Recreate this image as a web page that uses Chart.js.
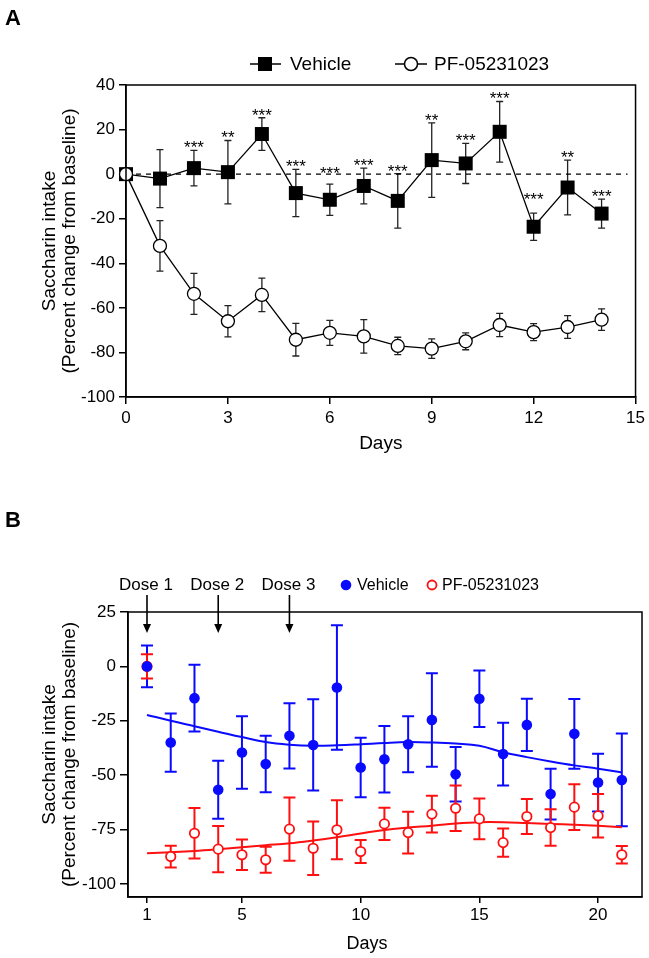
<!DOCTYPE html>
<html><head><meta charset="utf-8">
<script src="https://cdn.jsdelivr.net/npm/chart.js@4.4.1/dist/chart.umd.min.js"></script>
<style>
html,body{margin:0;padding:0;background:#fff;}
#wrap{position:relative;width:649px;height:958px;overflow:hidden;background:#fff;}
canvas{position:absolute;left:0;}
#cA{top:0;} #cB{top:480px;}
</style></head><body>
<div id="wrap"><canvas id="cA" width="649" height="480"></canvas><canvas id="cB" width="649" height="478"></canvas></div>
<script>
const FONT = 'Arial, "Liberation Sans", Helvetica, sans-serif';

// ---------- Panel A data ----------
const daysA = [0,1,2,3,4,5,6,7,8,9,10,11,12,13,14];
const vehicleA    = [0, -2, 2.7, 0.9, 18, -8.5, -11.5, -5.3, -12, 6.3, 4.8, 19, -23.6, -6, -17.7];
const vehicleSemA = [1, 13, 8, 14.2, 7.3, 10.6, 7, 8, 12.2, 16.7, 9, 13.6, 6.1, 12.3, 6.5];
const pfA    = [0, -32.2, -53.7, -66, -54.2, -74.3, -71.2, -72.8, -77.1, -78.3, -75, -67.7, -70.9, -68.6, -65.3];
const pfSemA = [1, 11.3, 9.2, 7, 7.5, 7.3, 5.6, 7.5, 3.9, 4.4, 3.8, 5.2, 3.8, 5.1, 4.8];
const starsA = ["", "", "***", "**", "***", "***", "***", "***", "***", "**", "***", "***", "***", "**", "***"];
const seriesNamesA = ["Vehicle", "PF-05231023"];
const xTicksA = [0,3,6,9,12,15];
const yTicksA = [-100,-80,-60,-40,-20,0,20,40];

// ---------- Panel B data ----------
const daysB = [1,2,3,4,5,6,7,8,9,10,11,12,13,14,15,16,17,18,19,20,21];
const vehicleB    = [0, -35, -14.6, -56.7, -39.6, -44.9, -31.9, -36.1, -9.7, -46.5, -42.7, -35.8, -24.6, -49.6, -14.9, -40.3, -26.9, -58.7, -31, -53.4, -52.2];
const vehicleSemB = [9.6, 13.4, 15.3, 13.3, 16.7, 13, 15, 21, 28.6, 13.7, 15.3, 12.9, 21.5, 12.5, 13, 14.4, 12, 11.7, 16, 13.3, 21.3];
const pfB    = [0, -87.4, -76.7, -84, -86.6, -88.9, -74.8, -83.6, -75.1, -85.1, -72.4, -76.4, -67.9, -65.2, -70.1, -81, -69, -74.1, -64.7, -68.7, -86.6];
const pfSemB = [5.6, 5, 11.6, 10.6, 7, 6, 14.5, 12.3, 13.6, 5.3, 7.4, 9.6, 8.4, 10.5, 9.4, 6.5, 8, 8.4, 10.5, 10, 4];
const trendVehicleB = [-22.3, -25, -27.5, -30, -32.5, -34.8, -36, -36.5, -36.3, -35.8, -35.2, -34.8, -35, -35.5, -36.5, -39.5, -41.7, -43.7, -45.5, -47, -48.8];
const trendPfB = [-85.9, -85.4, -84.8, -84, -83.1, -82.2, -81.3, -80, -78.5, -76.8, -75.2, -74.1, -73.2, -72.2, -71.6, -71.6, -72, -72.4, -72.8, -73.3, -73.9];
const seriesNamesB = ["Vehicle", "PF-05231023"];
const doseDays = [1, 4, 7];
const doseLabels = ["Dose 1", "Dose 2", "Dose 3"];
const xTicksB = [1,5,10,15,20];
const yTicksB = [-100,-75,-50,-25,0,25];

// ---------- styles ----------
const BLUE = '#0a0aff', RED = '#ff1010';
const starExtraLift = {6: 8, 12: 11};

const pts = (xs, ys) => xs.map((x, i) => ({x: x, y: ys[i]}));

const errorBarPlugin = {
  id: 'errorBars',
  beforeDatasetsDraw(chart) {
    const ctx = chart.ctx, xs = chart.scales.x, ys = chart.scales.y;
    chart.data.datasets.forEach(ds => {
      if (!ds.errors) return;
      ctx.save();
      ctx.strokeStyle = ds.errorColor; ctx.lineWidth = ds.errorWidth;
      ds.data.forEach((p, j) => {
        const e = ds.errors[j]; if (!e) return;
        const x = xs.getPixelForValue(p.x);
        const yt = ys.getPixelForValue(p.y + e), yb = ys.getPixelForValue(p.y - e);
        const c = ds.capHalf;
        ctx.beginPath();
        ctx.moveTo(x, yt); ctx.lineTo(x, yb);
        ctx.moveTo(x - c, yt); ctx.lineTo(x + c, yt);
        ctx.moveTo(x - c, yb); ctx.lineTo(x + c, yb);
        ctx.stroke();
      });
      ctx.restore();
    });
  }
};

const framePlugin = {
  id: 'frame',
  afterDraw(chart) {
    const a = chart.chartArea, ctx = chart.ctx;
    ctx.save(); ctx.strokeStyle = '#000'; ctx.lineWidth = 1.5;
    ctx.strokeRect(a.left, a.top, a.right - a.left, a.bottom - a.top);
    ctx.restore();
  }
};

const panelAPlugin = {
  id: 'panelA',
  beforeDatasetsDraw(chart) {
    const ctx = chart.ctx, ys = chart.scales.y, a = chart.chartArea;
    const y0 = ys.getPixelForValue(0);
    ctx.save(); ctx.strokeStyle = '#000'; ctx.lineWidth = 1.2; ctx.setLineDash([5, 5]);
    ctx.beginPath(); ctx.moveTo(a.left, y0); ctx.lineTo(a.right - 8, y0); ctx.stroke();
    ctx.restore();
  },
  afterDraw(chart) {
    const ctx = chart.ctx, xs = chart.scales.x, ys = chart.scales.y;
    ctx.save();
    ctx.fillStyle = '#000'; ctx.textAlign = 'center'; ctx.textBaseline = 'alphabetic';
    ctx.font = '17px ' + FONT;
    daysA.forEach((d, i) => {
      if (!starsA[i]) return;
      const x = xs.getPixelForValue(d);
      const top = ys.getPixelForValue(vehicleA[i] + vehicleSemA[i]);
      const lift = starExtraLift[d] || 0;
      ctx.fillText(starsA[i], x, top + 3 - lift);
    });
    // panel letter
    ctx.textAlign = 'left';
    ctx.font = 'bold 22px ' + FONT;
    ctx.fillText('A', 5, 25);
    // legend
    const y = 64;
    ctx.strokeStyle = '#000'; ctx.lineWidth = 1.5;
    ctx.beginPath(); ctx.moveTo(250, y); ctx.lineTo(281, y); ctx.stroke();
    ctx.fillRect(258, y - 7, 14, 14);
    ctx.beginPath(); ctx.moveTo(395, y); ctx.lineTo(427, y); ctx.stroke();
    ctx.beginPath(); ctx.arc(411, y, 6.5, 0, 2 * Math.PI);
    ctx.fillStyle = '#fff'; ctx.fill(); ctx.stroke();
    ctx.fillStyle = '#000'; ctx.font = '19px ' + FONT; ctx.textBaseline = 'middle';
    ctx.fillText(seriesNamesA[0], 290, y + 1);
    ctx.fillText(seriesNamesA[1], 434, y + 1);
    ctx.restore();
  }
};

const panelBPlugin = {
  id: 'panelB',
  afterDraw(chart) {
    const ctx = chart.ctx, xs = chart.scales.x;
    ctx.save();
    ctx.fillStyle = '#000'; ctx.strokeStyle = '#000';
    ctx.textAlign = 'left'; ctx.textBaseline = 'alphabetic';
    ctx.font = 'bold 22px ' + FONT;
    ctx.fillText('B', 5, 47);
    // dose arrows
    ctx.font = '17px ' + FONT; ctx.textAlign = 'center'; ctx.textBaseline = 'middle';
    doseDays.forEach((d, i) => {
      const x = xs.getPixelForValue(d);
      ctx.fillText(doseLabels[i], x - 1, 105);
      ctx.lineWidth = 1.6;
      ctx.beginPath(); ctx.moveTo(x, 115); ctx.lineTo(x, 146); ctx.stroke();
      ctx.beginPath(); ctx.moveTo(x - 4, 144); ctx.lineTo(x + 4, 144); ctx.lineTo(x, 153); ctx.closePath(); ctx.fill();
    });
    // legend
    ctx.fillStyle = BLUE;
    ctx.beginPath(); ctx.arc(346, 105, 5.3, 0, 2 * Math.PI); ctx.fill();
    ctx.strokeStyle = RED; ctx.lineWidth = 1.8;
    ctx.beginPath(); ctx.arc(432, 105, 4.5, 0, 2 * Math.PI); ctx.stroke();
    ctx.fillStyle = '#000'; ctx.font = '16px ' + FONT; ctx.textAlign = 'left';
    ctx.fillText(seriesNamesB[0], 357, 106);
    ctx.fillText(seriesNamesB[1], 442, 106);
    // x title
    ctx.font = '18px ' + FONT; ctx.textAlign = 'center';
    ctx.fillText('Days', 367, 464);
    ctx.restore();
  }
};

const axisCommon = (tickLen) => ({
  grid: {display: true, drawOnChartArea: false, drawTicks: true, tickLength: tickLen, color: '#000', lineWidth: 1.5},
  border: {display: true, color: '#000', width: 1.5}
});

// ---------- Chart A ----------
new Chart(document.getElementById('cA'), {
  type: 'scatter',
  data: {
    datasets: [
      {label: seriesNamesA[1], data: pts(daysA, pfA), showLine: true, order: 0, clip: false,
       borderColor: '#000', borderWidth: 1.3, pointStyle: 'circle', pointRadius: 6.5,
       pointBackgroundColor: '#fff', pointBorderColor: '#000', pointBorderWidth: 1.3,
       errors: pfSemA, errorColor: '#222', errorWidth: 1.3, capHalf: 3.5},
      {label: seriesNamesA[0], data: pts(daysA, vehicleA), showLine: true, order: 1, clip: false,
       borderColor: '#000', borderWidth: 1.3, pointStyle: 'rect', pointRadius: 9.9,
       pointBackgroundColor: '#000', pointBorderColor: '#000', pointBorderWidth: 0,
       errors: vehicleSemA, errorColor: '#222', errorWidth: 1.3, capHalf: 3.5}
    ]
  },
  options: {
    responsive: false, animation: false, events: [],
    layout: {padding: {left: 40, right: 12, top: 85, bottom: 23}},
    plugins: {legend: {display: false}, tooltip: {enabled: false}},
    scales: {
      x: Object.assign(axisCommon(7), {
        type: 'linear', min: 0, max: 15,
        afterBuildTicks: s => { s.ticks = xTicksA.map(v => ({value: v})); },
        afterFit: s => { s.height = 60; },
        ticks: {color: '#000', font: {size: 17, family: FONT}, padding: 4, maxRotation: 0, autoSkip: false},
        title: {display: true, text: 'Days', color: '#000', font: {size: 19, family: FONT, lineHeight: 20/19}, padding: {top: 0, bottom: 3}}
      }),
      y: Object.assign(axisCommon(7), {
        type: 'linear', min: -100, max: 40,
        afterBuildTicks: s => { s.ticks = yTicksA.map(v => ({value: v})); },
        afterFit: s => { s.width = 86; },
        ticks: {color: '#000', font: {size: 17, family: FONT}, padding: 4},
        title: {display: true, text: ['Saccharin intake', '(Percent change from baseline)'], color: '#000', font: {size: 19, family: FONT, lineHeight: 20/19}, padding: {top: 0, bottom: 0}}
      })
    }
  },
  plugins: [errorBarPlugin, panelAPlugin, framePlugin]
});

// ---------- Chart B ----------
new Chart(document.getElementById('cB'), {
  type: 'scatter',
  data: {
    datasets: [
      {label: seriesNamesB[0], data: pts(daysB, vehicleB), showLine: false, order: 0, clip: false,
       pointStyle: 'circle', pointRadius: 5.3, pointBackgroundColor: BLUE, pointBorderColor: BLUE, pointBorderWidth: 0,
       errors: vehicleSemB, errorColor: BLUE, errorWidth: 2, capHalf: 6},
      {label: seriesNamesB[1], data: pts(daysB, pfB), showLine: false, order: 1, clip: false,
       pointStyle: 'circle', pointRadius: 4.7, pointBackgroundColor: '#fff', pointBorderColor: RED, pointBorderWidth: 1.8,
       errors: pfSemB, errorColor: RED, errorWidth: 2, capHalf: 6},
      {label: 'Vehicle trend', data: pts(daysB, trendVehicleB), showLine: true, order: 2,
       borderColor: BLUE, borderWidth: 2, pointRadius: 0, tension: 0.4},
      {label: 'PF trend', data: pts(daysB, trendPfB), showLine: true, order: 3,
       borderColor: RED, borderWidth: 2, pointRadius: 0, tension: 0.4}
    ]
  },
  options: {
    responsive: false, animation: false, events: [],
    layout: {padding: {left: 40, right: 7, top: 132, bottom: 1}},
    plugins: {legend: {display: false}, tooltip: {enabled: false}},
    scales: {
      x: Object.assign(axisCommon(6), {
        type: 'linear', min: 0.2, max: 21.85,
        afterBuildTicks: s => { s.ticks = xTicksB.map(v => ({value: v})); },
        afterFit: s => { s.height = 60; },
        ticks: {color: '#000', font: {size: 17, family: FONT}, padding: 2, maxRotation: 0, autoSkip: false}
      }),
      y: Object.assign(axisCommon(8), {
        type: 'linear', min: -106, max: 25,
        afterBuildTicks: s => { s.ticks = yTicksB.map(v => ({value: v})); },
        afterFit: s => { s.width = 88; },
        ticks: {color: '#000', font: {size: 17, family: FONT}, padding: 4},
        title: {display: true, text: ['Saccharin intake', '(Percent change from baseline)'], color: '#000', font: {size: 19, family: FONT, lineHeight: 20/19}, padding: {top: 0, bottom: 0}}
      })
    }
  },
  plugins: [errorBarPlugin, panelBPlugin, framePlugin]
});
</script>
</body></html>
